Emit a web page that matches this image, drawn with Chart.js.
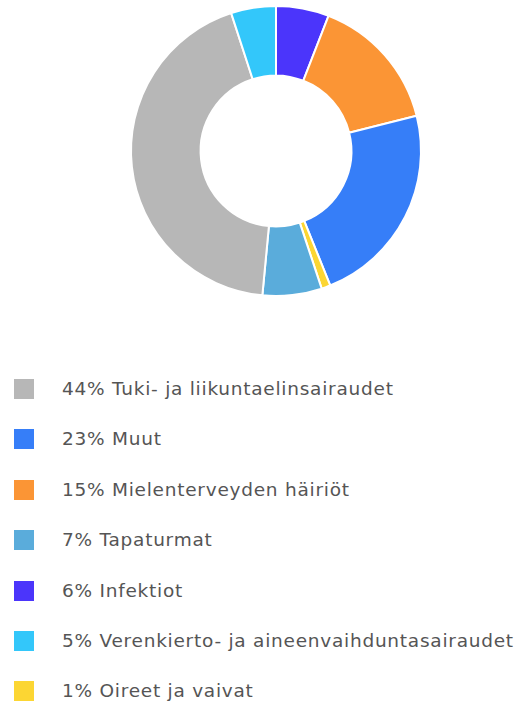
<!DOCTYPE html>
<html>
<head>
<meta charset="utf-8">
<script src="https://cdn.jsdelivr.net/npm/chart.js@4.4.0/dist/chart.umd.min.js"></script>
<style>
  html, body { margin: 0; padding: 0; background: #fff; }
  #wrap { position: relative; width: 522px; height: 300px; }
  #legend { list-style: none; margin: 0; padding: 0; position: absolute; left: 0; top: 364px; width: 522px; }
  #legend li { position: relative; height: 50.4px; font-family: "DejaVu Sans", sans-serif; font-size: 18.5px; letter-spacing: 0.75px; color: #555; }
  #legend .box { position: absolute; left: 14px; top: 15px; width: 20px; height: 20px; }
  #legend .txt { position: absolute; left: 62px; top: 11px; line-height: 28px; white-space: nowrap; }
</style>
</head>
<body>
<div id="wrap"><canvas id="sairausChart"></canvas></div>
<ul id="legend"></ul>
<script>
// Sairauspoissaolot syittäin (%)
const categories = [
  "Infektiot",
  "Mielenterveyden häiriöt",
  "Muut",
  "Oireet ja vaivat",
  "Tapaturmat",
  "Tuki- ja liikuntaelinsairaudet",
  "Verenkierto- ja aineenvaihduntasairaudet",
];
const shares = [5.9, 15.2, 22.8, 1.0, 6.6, 43.5, 5.0];
const colors = ["#4b35fb", "#fb9535", "#367ef8", "#fcd633", "#5aacdb", "#b7b7b7", "#33c7fa"];

const ctx = document.getElementById("sairausChart");
const chart = new Chart(ctx, {
  type: "doughnut",
  data: {
    labels: categories,
    datasets: [
      {
        data: shares,
        backgroundColor: colors,
        borderColor: "#fff",
        borderWidth: 2,
      },
    ],
  },
  options: {
    responsive: true,
    maintainAspectRatio: false,
    animation: false,
    cutout: "52%",
    layout: {
      padding: { left: 30, top: 5, bottom: 3 },
    },
    plugins: {
      legend: { display: false },
      tooltip: { enabled: false },
    },
  },
});

// Selite suurimmasta pienimpään
const legend = document.getElementById("legend");
const order = categories.map((c, i) => i).sort((a, b) => shares[b] - shares[a]);
order.forEach((i) => {
  const li = document.createElement("li");
  const box = document.createElement("span");
  box.className = "box";
  box.style.background = colors[i];
  const txt = document.createElement("span");
  txt.className = "txt";
  txt.textContent = Math.round(shares[i]) + "% " + categories[i];
  li.appendChild(box);
  li.appendChild(txt);
  legend.appendChild(li);
});
</script>
</body>
</html>
